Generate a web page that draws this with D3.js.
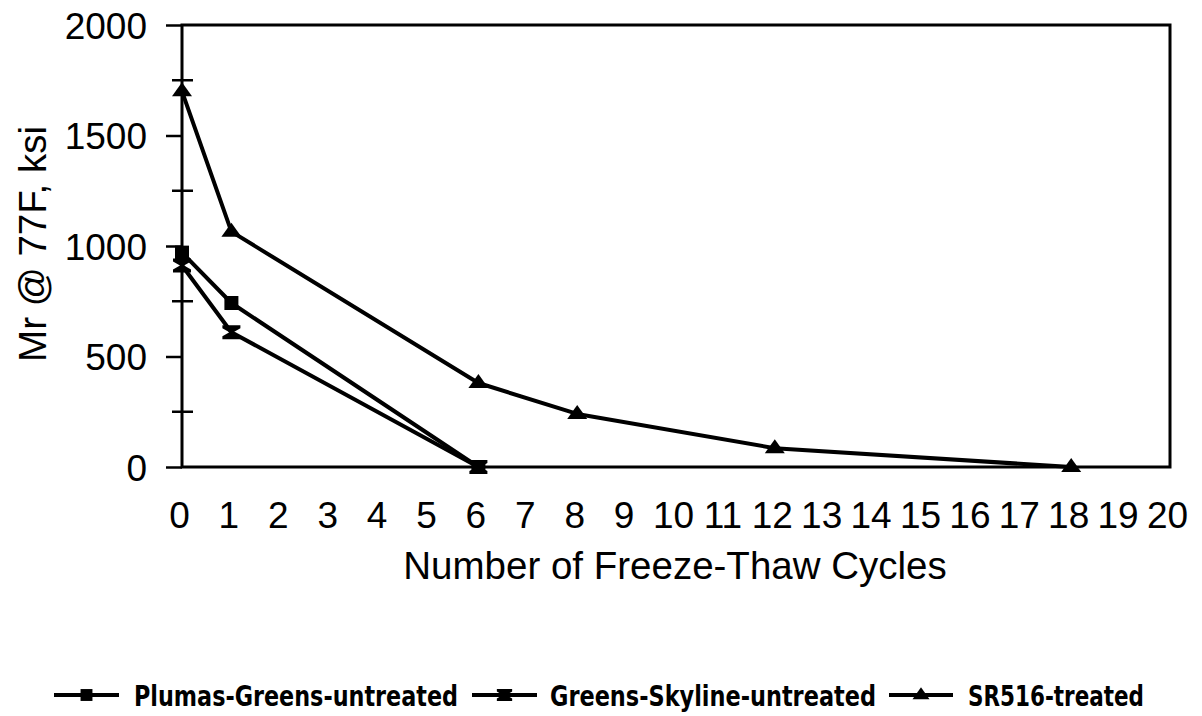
<!DOCTYPE html>
<html>
<head>
<meta charset="utf-8">
<script src="https://cdn.jsdelivr.net/npm/d3@7"></script>
<style>
  html, body { margin: 0; padding: 0; background: #fff; }
  svg { display: block; }
  .ax text { font-family: "Liberation Sans", Arial, sans-serif; font-size: 37px; fill: #000; }
  .title { font-family: "Liberation Sans", Arial, sans-serif; font-size: 38.5px; fill: #000; }
  .leg text { font-family: "Liberation Sans Narrow", "DejaVu Sans Condensed", "Arial Narrow", sans-serif;
              font-weight: bold; font-size: 29px; fill: #000; }
</style>
</head>
<body>
<script>
// --- data ---
const seriesNames = ['Plumas-Greens-untreated', 'Greens-Skyline-untreated', 'SR516-treated'];
const plumasCycles = [0, 1, 6];
const plumasMr     = [970, 742, 0];
const greensCycles = [0, 1, 6];
const greensMr     = [912, 610, 0];
const srCycles     = [0, 1, 6, 8, 12, 18];
const srMr         = [1700, 1065, 380, 240, 85, 0];
const xTickLabels  = [0, 1, 2, 3, 4, 5, 6, 7, 8, 9, 10, 11, 12, 13, 14, 15, 16, 17, 18, 19, 20];
const yMajorTicks  = [0, 500, 1000, 1500, 2000];
const yMinorTicks  = [250, 750, 1250, 1750];

const width = 1202, height = 716;
const plotLeft = 182, plotRight = 1170, plotTop = 25, plotBottom = 467;

const svg = d3.select('body').append('svg')
    .attr('width', width)
    .attr('height', height);

const x = d3.scaleLinear().domain([0, 20]).range([plotLeft, plotRight]);
const y = d3.scaleLinear().domain([0, 2000]).range([plotBottom, plotTop]);

// plot frame
svg.append('rect')
    .attr('x', plotLeft).attr('y', plotTop)
    .attr('width', plotRight - plotLeft).attr('height', plotBottom - plotTop)
    .attr('fill', 'none').attr('stroke', '#000').attr('stroke-width', 3);

// y axis
const yAxis = svg.append('g').attr('class', 'ax')
    .attr('transform', `translate(${plotLeft},0)`)
    .call(d3.axisLeft(y).tickValues(yMajorTicks).tickFormat(d3.format('d'))
      .tickSize(16).tickPadding(19));
yAxis.select('.domain').remove();
yAxis.selectAll('line').attr('stroke', '#000').attr('stroke-width', 2.5);
yAxis.selectAll('text').attr('dy', '0.36em');

svg.append('g').selectAll('line')
    .data(yMinorTicks)
    .join('line')
    .attr('x1', plotLeft - 10).attr('x2', plotLeft + 11)
    .attr('y1', d => y(d)).attr('y2', d => y(d))
    .attr('stroke', '#000').attr('stroke-width', 2.5);

// x axis (labels only, no tick marks)
const xAxis = svg.append('g').attr('class', 'ax')
    .attr('transform', `translate(0,${plotBottom})`)
    .call(d3.axisBottom(x).tickValues(xTickLabels).tickSize(0).tickPadding(0));
xAxis.select('.domain').remove();
xAxis.selectAll('text').attr('y', 61).attr('dy', 0).attr('dx', -3);

// titles
svg.append('text').attr('class', 'title')
    .attr('x', 675).attr('y', 579)
    .attr('text-anchor', 'middle')
    .text('Number of Freeze-Thaw Cycles');

svg.append('text').attr('class', 'title')
    .attr('transform', `translate(46,${(plotTop + plotBottom) / 2 - 2}) rotate(-90)`)
    .attr('text-anchor', 'middle')
    .text('Mr @ 77F, ksi');

// marker shapes
const markerPath = {
  square: 'M-7,-7H7V7H-7Z',
  hourglass: 'M-9,-7H9V-4L2,0L9,4V7H-9V4L-2,0L-9,-4Z',
  triangle: 'M0,-9L10,5H-10Z'
};

const series = [
  { name: seriesNames[0], xs: plumasCycles, ys: plumasMr, shape: 'square' },
  { name: seriesNames[1], xs: greensCycles, ys: greensMr, shape: 'hourglass' },
  { name: seriesNames[2], xs: srCycles, ys: srMr, shape: 'triangle' }
];

const line = d3.line().x(d => x(d[0])).y(d => y(d[1]));

series.forEach(s => {
  const pts = s.xs.map((c, i) => [c, s.ys[i]]);
  svg.append('path')
      .attr('d', line(pts))
      .attr('fill', 'none')
      .attr('stroke', '#000')
      .attr('stroke-width', 4)
      .attr('stroke-linejoin', 'round');
  svg.append('g').selectAll('path')
      .data(pts)
      .join('path')
      .attr('transform', d => `translate(${x(d[0])},${y(d[1])})`)
      .attr('d', markerPath[s.shape])
      .attr('fill', '#000');
});

// legend
const legLines = [[54, 119], [472, 537], [889, 953]];
const legText = [[134, 324], [550, 326], [968, 176]];
const legY = 695;
const leg = svg.append('g').attr('class', 'leg');
series.forEach((s, i) => {
  const [a, b] = legLines[i];
  leg.append('line')
      .attr('x1', a).attr('x2', b)
      .attr('y1', legY).attr('y2', legY)
      .attr('stroke', '#000').attr('stroke-width', 4);
  leg.append('path')
      .attr('transform', `translate(${(a + b) / 2},${legY}) scale(0.85)`)
      .attr('d', markerPath[s.shape])
      .attr('fill', '#000');
  leg.append('text')
      .attr('x', legText[i][0]).attr('y', 706)
      .attr('textLength', legText[i][1])
      .attr('lengthAdjust', 'spacingAndGlyphs')
      .text(s.name);
});
</script>
</body>
</html>
